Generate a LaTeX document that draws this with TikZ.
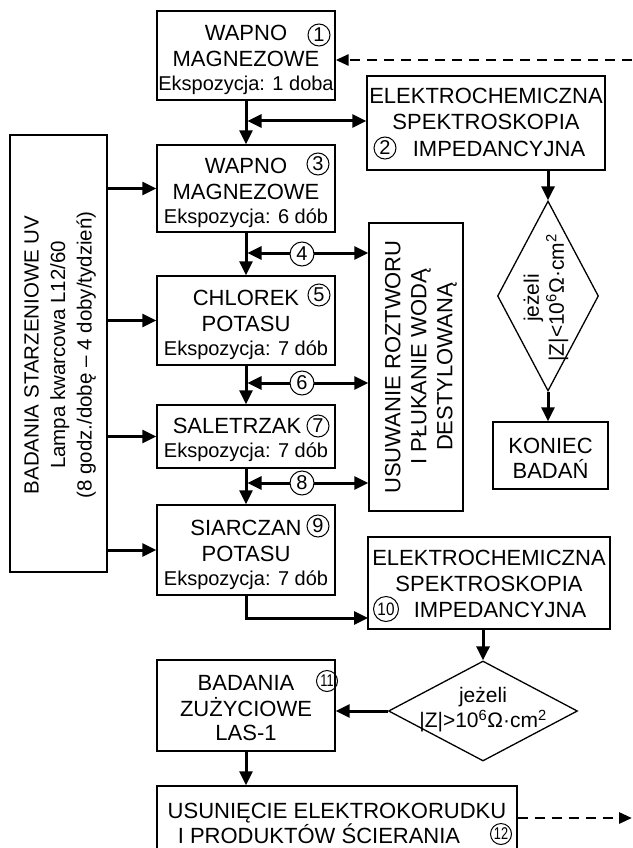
\documentclass[tikz,border=0pt]{standalone}
\usepackage{fontspec}
\usepackage{graphicx}
\setmainfont{Liberation Sans}
\usetikzlibrary{arrows.meta,shapes.geometric}
\newcommand{\FMain}{\fontsize{22}{26}\selectfont}
\newcommand{\FSub}{\fontsize{20}{24}\selectfont}
\newcommand{\FSide}{\fontsize{20.5}{26.5}\selectfont}
\newcommand{\FDia}{\fontsize{21}{25}\selectfont}
\newcommand{\FNum}{\fontsize{20}{20}\selectfont}
\newcommand{\FNumM}{\fontsize{18}{18}\selectfont}
\newcommand{\FNumS}{\fontsize{17}{17}\selectfont}
\newcommand{\TopS}[1]{\rule{0pt}{#1}}
\newcommand{\BotS}{\rule[-5pt]{0pt}{5pt}}
\begin{document}
\begin{tikzpicture}[x=1pt,y=-1pt,
  box/.style={draw, line width=1.4pt, inner sep=0pt, align=center, font=\FMain},
  dia/.style={diamond, draw, line width=1.3pt, inner sep=0pt},
  rtext/.style={rotate=90, align=center, inner sep=0pt},
  num/.style={circle, draw, line width=1pt, inner sep=0pt, minimum size=22pt, font=\FNum},
  numw/.style={num, fill=white, minimum size=24pt},
  arr/.style={line width=3pt, -{Triangle[length=14pt,width=13pt]}},
  darr/.style={line width=3pt, {Triangle[length=14pt,width=13pt]}-{Triangle[length=14pt,width=13pt]}},
  dasharr/.style={line width=2.8pt, dash pattern=on 10pt off 7pt, -{Triangle[length=13pt,width=11pt]}}
]
\useasboundingbox (0,0) rectangle (632,848);
\clip (0,0) rectangle (632,848);

% boxes
\node[box, minimum width=178pt, minimum height=89pt] (b1) at (246,55.5)
  {\TopS{25pt}WAPNO\\MAGNEZOWE\\[-2pt]{\FSub Ekspozycja: 1 doba}\BotS};
\node[box, minimum width=238pt, minimum height=94pt] (b2) at (486,123)
  {\TopS{19pt}ELEKTROCHEMICZNA\\SPEKTROSKOPIA\\\hspace*{26pt}IMPEDANCYJNA\BotS};
\node[box, minimum width=178pt, minimum height=87pt] (b3) at (246,188.5)
  {\TopS{25pt}WAPNO\\MAGNEZOWE\\[-2pt]{\FSub Ekspozycja: 6 dób}\BotS};
\node[box, minimum width=178pt, minimum height=89pt] (b5) at (246,320.5)
  {\TopS{25pt}CHLOREK\\POTASU\\[-2pt]{\FSub Ekspozycja: 7 dób}\BotS};
\node[box, minimum width=178pt, minimum height=63pt] (b7) at (246,436.5)
  {\TopS{22pt}SALETRZAK\hspace*{18pt}\\[-2pt]{\FSub Ekspozycja: 7 dób}\BotS};
\node[box, minimum width=178pt, minimum height=90pt] (b9) at (246,550)
  {\TopS{25pt}SIARCZAN\\POTASU\\[-2pt]{\FSub Ekspozycja: 7 dób}\BotS};
\node[box, minimum width=242pt, minimum height=92pt] (b10) at (489,583)
  {\TopS{22pt}ELEKTROCHEMICZNA\\SPEKTROSKOPIA\\\hspace*{22pt}IMPEDANCYJNA\BotS};
\node[box, minimum width=115pt, minimum height=67pt] (kon) at (550.5,455.5)
  {\TopS{25pt}KONIEC\\[-1pt]BADAŃ\BotS};
\node[box, minimum width=178pt, minimum height=91pt] (b11) at (246,705.5)
  {\TopS{24pt}BADANIA\\ZUŻYCIOWE\\[-2pt]LAS-1\BotS};
\node[box, minimum width=360pt, minimum height=66pt] (b12) at (337,819)
  {\TopS{28pt}USUNIĘCIE ELEKTROKORUDKU\\[-1pt]I PRODUKTÓW ŚCIERANIA\hspace*{36pt}\BotS};

% tall boxes with rotated text
\node[box, minimum width=94pt, minimum height=288pt] (usu) at (416,367) {};
\node[rtext, font=\FMain] (usut) at (421,367)
  {USUWANIE ROZTWORU\\I PŁUKANIE WODĄ\\DESTYLOWANĄ};
\node[box, minimum width=97pt, minimum height=437pt] (left) at (58.5,353.5) {};
\node[rtext, font=\FSide] (leftt) at (60,355)
  {BADANIA STARZENIOWE UV\\Lampa kwarcowa L12/60\\(8 godz./dobę – 4 doby/tydzień)};

% diamonds
\node[dia, minimum width=101pt, minimum height=190pt] (d1) at (548,296) {};
\node[rtext, font=\FDia] (d1t) at (546,298)
  {jeżeli\\|Z|<10\textsuperscript{6}Ω·cm\textsuperscript{2}};
\node[dia, minimum width=189pt, minimum height=100pt] (d2) at (483,711) {};
\node[align=center, inner sep=0pt, font=\FDia] (d2t) at (483,710)
  {jeżeli\\|Z|>10\textsuperscript{6}Ω·cm\textsuperscript{2}};

% connectors
\draw[arr] (b1.south) -- (b3.north);
\draw[arr] (b3.south) -- (b5.north);
\draw[arr] (b5.south) -- (b7.north);
\draw[arr] (b7.south) -- (b9.north);
\coordinate (jA) at (247.5,121);
\coordinate (jB) at (247.5,253);
\coordinate (jC) at (247.5,383);
\coordinate (jD) at (247.5,483);
\draw[darr] (jA) -- (jA -| b2.west);
\draw[darr] (jB) -- (jB -| usu.west);
\draw[darr] (jC) -- (jC -| usu.west);
\draw[darr] (jD) -- (jD -| usu.west);
\foreach \t in {b3,b5,b7,b9} \draw[arr] (\t.west -| left.east) -- (\t.west);
\draw[arr] (d1.north |- b2.south) -- (d1.north);
\draw[arr] (d1.south) -- (d1.south |- kon.north);
\coordinate (p10) at (368,618);
\draw[arr] (b9.south) |- (p10);
\draw[arr] (d2.north |- b10.south) -- (d2.north);
\draw[arr] (d2.west) -- (d2.west -| b11.east);
\draw[arr] (b11.south) -- (b11.south |- b12.north);
\coordinate (tr) at (632,60);
\draw[dasharr] (tr) -- (tr -| b1.east);
\coordinate (br) at (632,818);
\draw[dasharr] (b12.east |- br) -- (br);

% circled numbers
\node[num] (n1) at (319,35) {1};
\node[num] (n2) at (385,148) {2};
\node[num] (n3) at (318,164) {3};
\node[numw] (n4) at (302,254) {4};
\node[num] (n5) at (319,295) {5};
\node[numw] (n6) at (302,383) {6};
\node[num] (n7) at (318,426) {7};
\node[numw] (n8) at (302,483) {8};
\node[num] (n9) at (318,526) {9};
\node[num, minimum size=25pt, font=\FNumM] (n10) at (386,609) {\scalebox{0.85}[1]{10}};
\node[num, minimum size=21pt, font=\FNumS] (n11) at (327,681) {\scalebox{0.75}[1]{11}};
\node[num, minimum size=21pt, font=\FNumS] (n12) at (501,834) {\scalebox{0.75}[1]{12}};
\end{tikzpicture}
\end{document}
